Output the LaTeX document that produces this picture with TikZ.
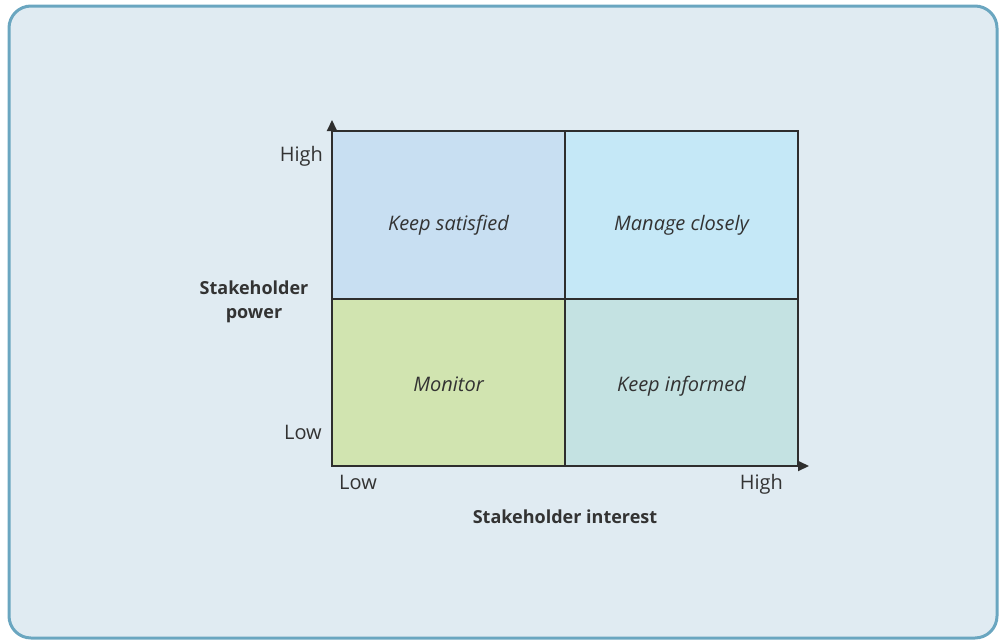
\documentclass[tikz,border=0pt]{standalone}
\usepackage{fontspec}
\setmainfont{Open Sans}
\usetikzlibrary{arrows.meta,positioning}

\definecolor{panelbg}{HTML}{E0EBF2}
\definecolor{panelrim}{HTML}{6AA6C0}
\definecolor{gridline}{HTML}{2E2E2E}
\definecolor{inktext}{HTML}{333333}
\definecolor{satfill}{HTML}{C8DFF2}
\definecolor{closefill}{HTML}{C5E8F7}
\definecolor{monfill}{HTML}{D1E4B0}
\definecolor{infofill}{HTML}{C4E2E2}

\begin{document}
\begin{tikzpicture}[
    x=1pt, y=-1pt,
    node distance=0pt,
    every node/.style={font=\fontsize{20}{24}\selectfont, text=inktext},
    cell/.style={rectangle, draw=gridline, line width=2pt, inner sep=0pt,
                 outer sep=0pt, minimum width=233pt, minimum height=167.5pt,
                 align=center, text depth=0pt,
                 font=\fontsize{20}{24}\selectfont\itshape},
    toprow/.style={cell, text height=32pt},
    botrow/.style={cell, text height=18pt},
    axis/.style={-{Triangle[length=11pt,width=10pt]}, line width=2pt, draw=gridline},
    ticklbl/.style={inner sep=0pt},
    axislbl/.style={inner sep=0pt, align=center,
                    font=\fontsize{18}{24}\selectfont\bfseries},
]
\useasboundingbox (0,0) rectangle (999,640);

% panel
\draw[panelrim, fill=panelbg, line width=3pt, rounded corners=22pt]
  (9,6) rectangle (997,638);

% the four cells
\node[toprow, fill=satfill, anchor=north west] (sat) at (332,131) {Keep satisfied};
\node[toprow, fill=closefill, right=of sat]    (close) {Manage closely};
\node[botrow, fill=monfill, below=of sat]      (mon)   {Monitor};
\node[botrow, fill=infofill, right=of mon]     (info)  {Keep informed};

% axes
\coordinate (origin) at (mon.south west);
\coordinate (xtip)   at ([xshift=11pt]info.south east);
\coordinate (ytip)   at ([yshift=11pt]sat.north west);
\draw[axis] (origin) -- (xtip);
\draw[axis] (origin) -- (ytip);

% tick labels
\node[ticklbl, anchor=base east] (yhigh) at (323,161) {High};
\node[ticklbl, anchor=base east] (ylow)  at (322,439) {Low};
\node[ticklbl, anchor=base west] (xlow)  at (339,489) {Low};
\node[ticklbl, anchor=base east] (xhigh) at (783,489) {High};

% axis titles
\node[axislbl, anchor=base] (xtitle) at (565,523) {Stakeholder interest};
\node[axislbl] (ytitle) at (254,302) {Stakeholder\\power};

\end{tikzpicture}
\end{document}
